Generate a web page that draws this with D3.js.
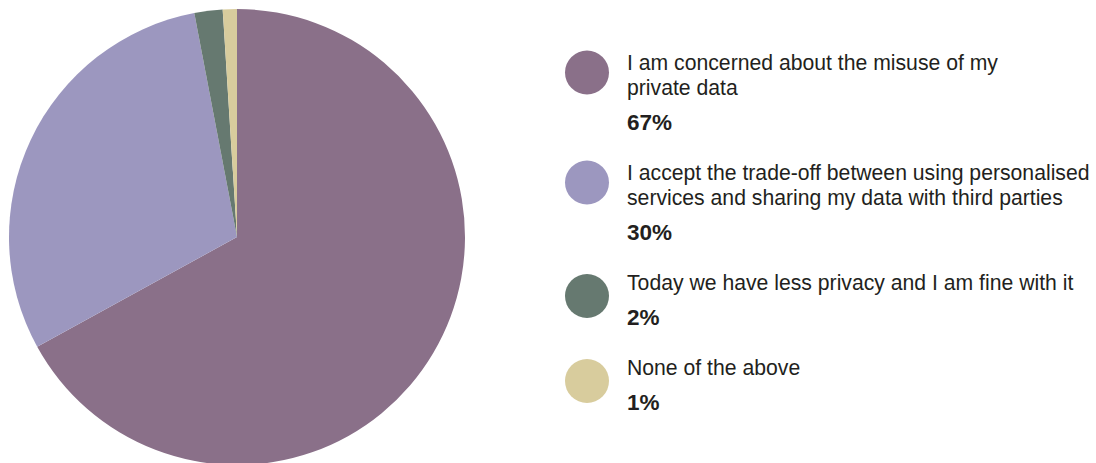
<!DOCTYPE html>
<html>
<head>
<meta charset="utf-8">
<script src="https://cdn.jsdelivr.net/npm/d3@7"></script>
<style>
  html, body { margin: 0; padding: 0; background: #fff; }
  svg { display: block; }
</style>
</head>
<body>
<svg id="chart" width="1096" height="463"></svg>
<script>
// Survey answers on data privacy
const answers = [
  ["I am concerned about the misuse of my", "private data"],
  ["I accept the trade-off between using personalised", "services and sharing my data with third parties"],
  ["Today we have less privacy and I am fine with it"],
  ["None of the above"]
];
const shares = [67, 30, 2, 1];
const shareLabels = ["67%", "30%", "2%", "1%"];
const colours = ["#8a7089", "#9c97bf", "#667970", "#d8cc9d"];

const svg = d3.select("#chart");

// Pie, clockwise from twelve o'clock
const cx = 237, cy = 237, radius = 228;
const pie = d3.pie().sort(null).value(d => d)(shares);
const arc = d3.arc().innerRadius(0).outerRadius(radius);
const colour = d3.scaleOrdinal().domain(d3.range(shares.length)).range(colours);

svg.append("g")
  .attr("transform", `translate(${cx},${cy})`)
  .selectAll("path")
  .data(pie)
  .join("path")
  .attr("d", arc)
  .attr("fill", (d, i) => colour(i));

// Legend
const font = "'Liberation Sans', Arial, Helvetica, sans-serif";
const legendX = 587, textX = 627;
const lineGap = 25, boldGap = 35.5, itemGap = 49.5;
const legend = svg.append("g");
let y = 69.6; // baseline of the first text line
answers.forEach((lines, i) => {
  const g = legend.append("g");
  const top = y;
  g.append("circle")
    .attr("cx", legendX)
    .attr("cy", top - 7.6 + (lines.length > 1 ? 10.5 : 14))
    .attr("r", 22)
    .attr("fill", colour(i));
  lines.forEach((t, k) => {
    g.append("text")
      .attr("x", textX)
      .attr("y", y + k * lineGap)
      .attr("font-family", font)
      .attr("font-size", 21.2)
      .attr("fill", "#231f20")
      .text(t);
  });
  y += (lines.length - 1) * lineGap + boldGap;
  g.append("text")
    .attr("x", textX)
    .attr("y", y)
    .attr("font-family", font)
    .attr("font-size", 22.5)
    .attr("font-weight", "bold")
    .attr("fill", "#231f20")
    .text(shareLabels[i]);
  y += itemGap;
});
</script>
</body>
</html>
